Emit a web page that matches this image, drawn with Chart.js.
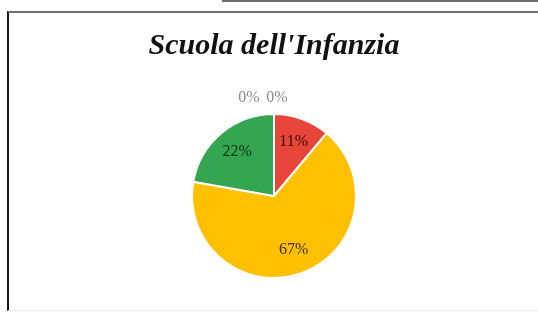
<!DOCTYPE html>
<html>
<head>
<meta charset="utf-8">
<script src="https://cdn.jsdelivr.net/npm/chart.js@4"></script>
<style>
    html, body { margin: 0; padding: 0; background: #ffffff; }
    body { width: 538px; height: 313px; position: relative; overflow: hidden; }
    /* riquadro in alto a destra (bordo inferiore visibile) */
    #box-alto { position: absolute; left: 222px; top: 0; width: 316px; height: 2px; background: #6a6a6a; }
    /* cornice del grafico */
    #cornice { position: absolute; left: 7px; top: 11px; width: 531px; height: 297px;
               border-top: 2px solid #707070; border-left: 2px solid #151515; border-bottom: 1px solid #ececec; }
    #grafico { position: absolute; left: 10px; top: 0; }
</style>
</head>
<body>
<div id="box-alto"></div>
<div id="cornice"></div>
<canvas id="grafico" width="528" height="313"></canvas>
<script>
// Dati del grafico.
const TITOLO = "Scuola dell'Infanzia";
const CATEGORIE = ['Voce 1', 'Voce 2', 'Voce 3', 'Voce 4', 'Voce 5'];
const VALORI = [1, 6, 2, 0, 0];
const COLORI = ['#E8453A', '#FFC000', '#34A551', '#4472C4', '#A5A5A5'];
const COLORI_TESTO = ['#3a0806', '#3d2e00', '#082e12', '#8a8a8a', '#8a8a8a'];

const FONT_SERIF = "'Liberation Serif', 'Times New Roman', serif";

// Plugin per scrivere le percentuali sulle fette.
const etichettePercentuali = {
    id: 'etichettePercentuali',
    afterDatasetsDraw(chart) {
        const ctx = chart.ctx;
        const meta = chart.getDatasetMeta(0);
        const totale = VALORI.reduce((a, b) => a + b, 0);
        const zeri = VALORI.map((v, i) => v === 0 ? i : -1).filter(i => i >= 0);
        ctx.save();
        ctx.font = '16px ' + FONT_SERIF;
        ctx.textAlign = 'center';
        ctx.textBaseline = 'middle';
        meta.data.forEach((arc, i) => {
            const p = arc.getProps(['x', 'y', 'startAngle', 'endAngle', 'outerRadius']);
            const testo = Math.round(VALORI[i] / totale * 100) + '%';
            const ang = (p.startAngle + p.endAngle) / 2;
            let x, y;
            if (VALORI[i] > 0) {
                x = p.x + Math.cos(ang) * p.outerRadius * 0.7;
                y = p.y + Math.sin(ang) * p.outerRadius * 0.7;
            } else {
                // fette vuote: etichette fuori dalla torta, affiancate
                const k = zeri.indexOf(i);
                x = p.x + Math.cos(ang) * (p.outerRadius + 16) + 3 - (zeri.length - 1 - k) * 28;
                y = p.y + Math.sin(ang) * (p.outerRadius + 16);
            }
            ctx.fillStyle = COLORI_TESTO[i];
            ctx.fillText(testo, x, y);
        });
        ctx.restore();
    }
};

new Chart(document.getElementById('grafico'), {
    type: 'pie',
    data: {
        labels: CATEGORIE,
        datasets: [{
            data: VALORI,
            backgroundColor: COLORI,
            borderColor: '#ffffff',
            borderWidth: 2
        }]
    },
    options: {
        responsive: false,
        animation: false,
        layout: { padding: { top: 0, bottom: 34 } },
        plugins: {
            legend: { display: false },
            tooltip: { enabled: false },
            title: {
                display: true,
                text: TITOLO,
                color: '#111111',
                font: { family: FONT_SERIF, size: 30, style: 'italic', weight: 'bold' },
                padding: { top: 28, bottom: 49 }
            }
        }
    },
    plugins: [etichettePercentuali]
});
</script>
</body>
</html>
